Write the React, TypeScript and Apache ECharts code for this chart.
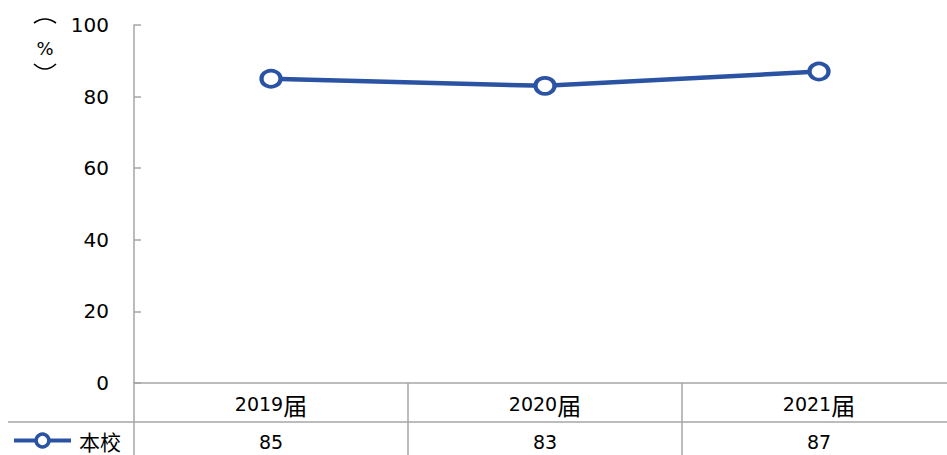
import React, { useEffect, useRef } from "react";
import * as echarts from "echarts";

const categories = ["2019届", "2020届", "2021届"];
const seriesName = "本校";
const values = [85, 83, 87];
const yTicks = { min: 0, max: 100, interval: 20 };

const FONT = "'DejaVu Sans', 'Noto Sans CJK SC', sans-serif";
const CJK = "'Noto Sans CJK SC', sans-serif";
const BLUE = "#2A53A4";
const GRAY = "#A6A6A6";

function splitLabel(s: string) {
  const m = s.match(/^(\d+)(.*)$/);
  if (!m) return s;
  return `{d|${m[1]}}{c|${m[2]}}`;
}

export default function App() {
  const ref = useRef<HTMLDivElement>(null);
  useEffect(() => {
    if (!ref.current) return;
    const chart = echarts.init(ref.current, undefined, { renderer: "svg" });
    chart.setOption({
      animation: false,
      textStyle: { fontFamily: FONT },
      grid: { left: 134, top: 25, bottom: 72, width: 822, outerBoundsMode: "none", containLabel: false },
      legend: {
        left: 12,
        top: 430,
        padding: 0,
        itemWidth: 57,
        itemHeight: 16,
        itemGap: 4,
        lineStyle: { width: 4, color: BLUE },
        itemStyle: { color: "#fff", borderColor: BLUE, borderWidth: 3.5 },
        textStyle: { fontSize: 21, lineHeight: 21, color: "#000", fontFamily: CJK, padding: [0, 0, 0, 3] },
        data: [seriesName],
      },
      xAxis: [
        {
          type: "category",
          data: categories,
          boundaryGap: true,
          axisLine: { show: true, lineStyle: { color: GRAY, width: 1.5 } },
          axisTick: { show: true, length: 72, lineStyle: { color: GRAY, width: 1.5 } },
          axisLabel: {
            margin: 9,
            formatter: (v: string) => splitLabel(v),
            rich: {
              d: { fontSize: 19, color: "#000", fontFamily: FONT },
              c: { fontSize: 24, color: "#000", fontFamily: CJK },
            },
          },
        },
        {
          type: "category",
          position: "bottom",
          offset: 39,
          data: values.map((v) => String(v)),
          boundaryGap: true,
          axisLine: { show: false },
          axisTick: { show: false },
          axisLabel: { fontSize: 19, color: "#000", margin: 10, fontFamily: FONT },
        },
      ],
      yAxis: {
        type: "value",
        min: yTicks.min,
        max: yTicks.max,
        interval: yTicks.interval,
        axisLine: { show: true, lineStyle: { color: GRAY, width: 1.5 } },
        axisTick: { show: true, inside: true, length: 7, lineStyle: { color: GRAY, width: 1.5 } },
        splitLine: { show: false },
        axisLabel: { fontSize: 20, color: "#000", margin: 25, fontFamily: FONT },
      },
      graphic: [
        {
          type: "line",
          shape: { x1: 8, y1: 422, x2: 947, y2: 422 },
          style: { stroke: GRAY, lineWidth: 1.5 },
        },
        {
          type: "bezierCurve",
          shape: { x1: 34, y1: 23, x2: 56, y2: 23, cpx1: 45, cpy1: 15 },
          style: { stroke: "#000", lineWidth: 1.6, fill: "none" },
        },
        {
          type: "text",
          x: 45,
          y: 48,
          style: { text: "%", fontSize: 18, fill: "#000", textAlign: "center", textVerticalAlign: "middle", fontFamily: FONT },
        },
        {
          type: "bezierCurve",
          shape: { x1: 34, y1: 64, x2: 56, y2: 64, cpx1: 45, cpy1: 74 },
          style: { stroke: "#000", lineWidth: 1.6, fill: "none" },
        },
      ],
      series: [
        {
          name: seriesName,
          type: "line",
          data: values,
          xAxisIndex: 0,
          symbol: "circle",
          symbolSize: [19, 16],
          lineStyle: { color: BLUE, width: 4.5 },
          itemStyle: { color: "#fff", borderColor: BLUE, borderWidth: 4 },
        },
      ],
    });
    return () => chart.dispose();
  }, []);
  return (
    <div
      ref={ref}
      style={{ position: "fixed", left: 0, top: 0, width: 947, height: 455, background: "#fff" }}
    />
  );
}
